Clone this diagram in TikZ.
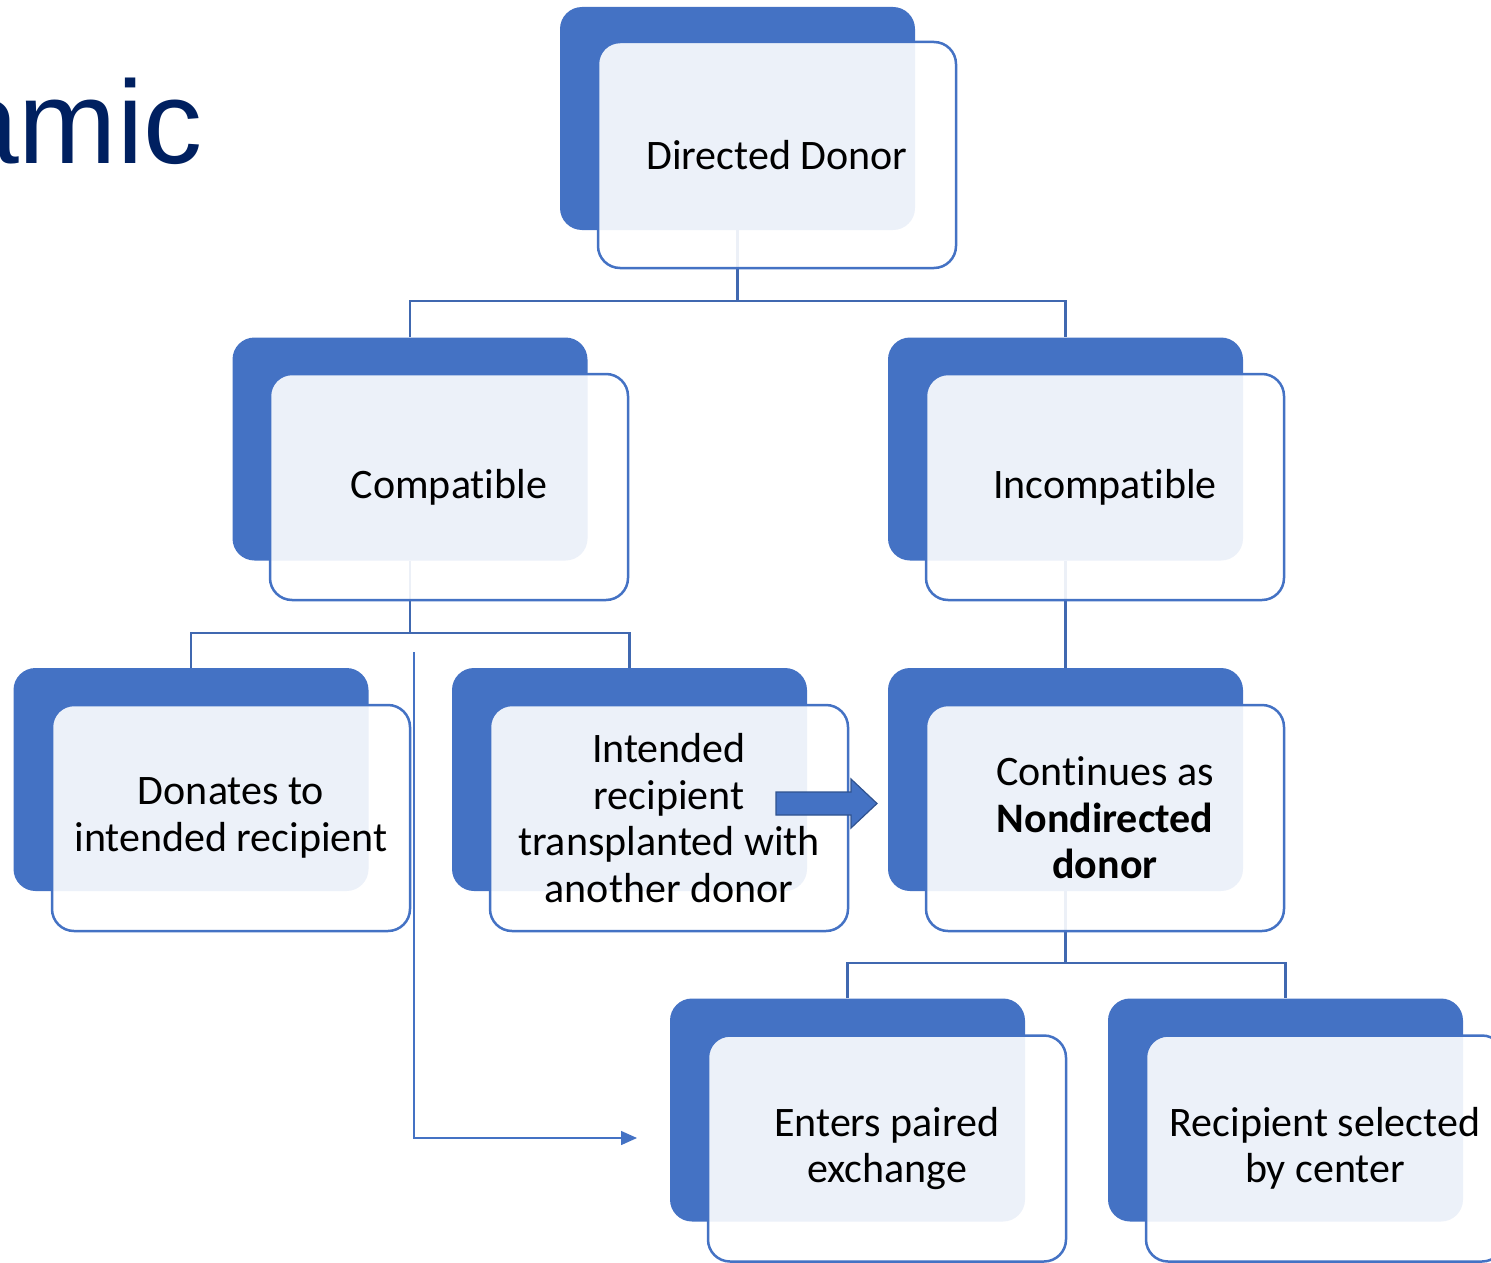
\documentclass[tikz,border=0pt]{standalone}
\usepackage{fontspec}
\setmainfont{Carlito}[RawFeature={-liga;-dlig;-clig}]
\newfontfamily\titlefont{Liberation Sans}
\usetikzlibrary{arrows.meta}

\definecolor{accent}{HTML}{4472C4}
\definecolor{linkblue}{HTML}{4068B0}
\definecolor{navy}{HTML}{002060}
\definecolor{arrowedge}{HTML}{2F528F}

\begin{document}
\begin{tikzpicture}[x=1pt,y=-1pt,
  backbox/.style={rectangle, rounded corners=22pt, fill=accent,
    minimum width=355pt, minimum height=223pt, inner sep=0pt},
  frontbox/.style={rectangle, rounded corners=22pt, draw=accent, line width=2.5pt,
    fill=white, fill opacity=0.9, text opacity=1, text=black,
    minimum width=358pt, minimum height=226pt, align=center, inner sep=0pt,
    font=\fontsize{42}{46.5}\selectfont},
  link/.style={draw=linkblue, line width=2.5pt},
  thinlink/.style={draw=accent, line width=1.5pt,
    -{Triangle[length=16pt,width=14pt]}},
  blockarrow/.style={fill=accent, draw=arrowedge, line width=1.2pt, line join=miter}
]
\useasboundingbox (0,0) rectangle (1491,1263);

% heading fragment
\node[font=\titlefont\fontsize{118}{118}\selectfont, text=navy,
  anchor=base west, inner sep=0pt] (title) at (-47,163) {amic};

% junction points of the tree
\coordinate (j1) at (737.5,301);
\coordinate (j2) at (410,633);
\coordinate (j3) at (1065.5,963);

% back panels
\node[backbox] (dd-b)   at (737.5,118.5) {};
\node[backbox] (comp-b) at (410,449) {};
\node[backbox] (inc-b)  at (1065.5,449) {};
\node[backbox] (don-b)  at (191,779.5) {};
\node[backbox] (int-b)  at (629.5,779.5) {};
\node[backbox] (cont-b) at (1065.5,779.5) {};
\node[backbox] (ent-b)  at (847.5,1110) {};
\node[backbox] (rec-b)  at (1285.5,1110) {};

% connectors, drawn before the front panels
\draw[link] (dd-b.south) -- (j1);
\draw[link] (comp-b.north) |- (j1) -| (inc-b.north);
\draw[link] (comp-b.south) -- (j2);
\draw[link] (don-b.north) |- (j2) -| (int-b.north);
\draw[link] (inc-b.south) -- (cont-b.north);
\draw[link] (cont-b.south) -- (j3);
\draw[link] (ent-b.north) |- (j3) -| (rec-b.north);

% front panels with the labels
\node[frontbox] (dd)   at (777,155) {Directed Donor};
\node[frontbox] (comp) at (449,487) {Compatible};
\node[frontbox] (inc)  at (1105,487) {Incompatible};
\node[frontbox] (don)  at (231,818) {Donates to\\intended recipient};
\node[frontbox] (int)  at (669,818) {Intended\\recipient\\transplanted with\\another donor};
\node[frontbox] (cont) at (1105,818) {Continues as\\\textbf{Nondirected}\\\textbf{donor}};
\node[frontbox] (ent)  at (887,1148.5) {Enters paired\\exchange};
\node[frontbox] (rec)  at (1325,1148.5) {Recipient selected\\by center};

% thin routing arrow towards paired exchange
\coordinate (t0) at (414,652);
\coordinate (t1) at (637,1138);
\draw[thinlink] (t0) |- (t1);

% block arrow from the intended-recipient panel to the nondirected panel
\coordinate (ba) at (776,803.5);
\draw[blockarrow] (ba) ++(0,-11.5) -- ++(75,0) -- ++(0,-13) -- ++(26,24.5)
  -- ++(-26,24.5) -- ++(0,-13) -- ++(-75,0) -- cycle;
\end{tikzpicture}
\end{document}
